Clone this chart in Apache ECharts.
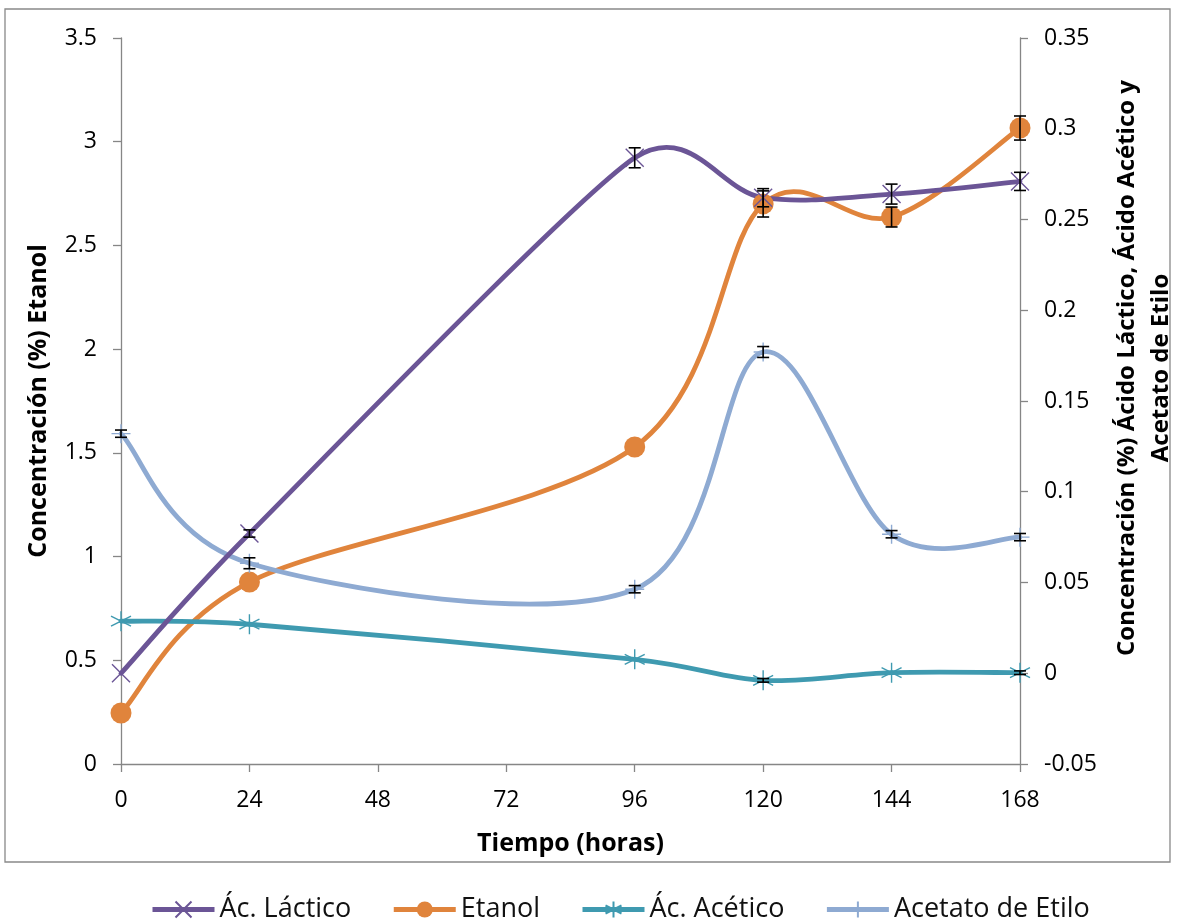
<!DOCTYPE html>
<html><head><meta charset="utf-8">
<script src="https://cdn.jsdelivr.net/npm/echarts@6/dist/echarts.min.js"></script>
<style>html,body{margin:0;padding:0;background:#fff}#c{width:1177px;height:921px}</style>
</head><body><div id="c"></div>
<script>
const hours = [0, 24, 96, 120, 144, 168];
const xTicks = [0, 24, 48, 72, 96, 120, 144, 168];
const lactico = [0.0, 0.077, 0.284, 0.262, 0.264, 0.271];
const lacticoErr = [0.0, 0.002, 0.0055, 0.005, 0.0055, 0.005];
const etanol = [0.246, 0.877, 1.528, 2.70, 2.637, 3.066];
const etanolErr = [0.0, 0.0, 0.0, 0.063, 0.048, 0.058];
const acetico = [0.0287, 0.027, 0.0077, -0.0039, 0.0003, 0.0003];
const aceticoErr = [0.0, 0.0, 0.0, 0.001, 0.0, 0.001];
const acetato = [0.132, 0.0606, 0.0463, 0.177, 0.0766, 0.075];
const acetatoErr = [0.002, 0.003, 0.002, 0.003, 0.002, 0.002];

const FONT = 'Open Sans';
const COL = { lac: '#6b5596', eta: '#e0843c', acc: '#3f9ab0', ace: '#8eaad2' };
const pts = arr => hours.map((h, i) => [h, arr[i]]);
const errPts = (arr, err) => hours.map((h, i) => [h, arr[i], err[i]]).filter(d => d[2] > 0);

const X_SYM = 'path://M0,0L10,10M10,0L0,10';
const STAR_SYM = 'path://M5,0L5,10M0,2.5L10,7.5M10,2.5L0,7.5';
const PLUS_SYM = 'path://M5,0L5,10M2.5,5L7.5,5';

function errSeries(arr, err, yIdx) {
  return {
    type: 'custom', yAxisIndex: yIdx, silent: true, z: 6,
    data: errPts(arr, err),
    renderItem: function (params, api) {
      const x = api.value(0), y = api.value(1), e = api.value(2);
      const top = api.coord([x, y + e]);
      const bot = api.coord([x, y - e]);
      const w = 6;
      const st = { stroke: '#000', lineWidth: 1.6 };
      return { type: 'group', children: [
        { type: 'line', shape: { x1: top[0], y1: top[1], x2: bot[0], y2: bot[1] }, style: st },
        { type: 'line', shape: { x1: top[0] - w, y1: top[1], x2: top[0] + w, y2: top[1] }, style: st },
        { type: 'line', shape: { x1: bot[0] - w, y1: bot[1], x2: bot[0] + w, y2: bot[1] }, style: st }
      ]};
    }
  };
}

// Spreadsheet-style smoothed curve (cubic Bezier), positioned through the library's coordinate system
function curveSeries(arr, yIdx, color, z) {
  const data = pts(arr);
  return {
    type: 'custom', yAxisIndex: yIdx, silent: true, z: z, clip: false,
    data: data,
    renderItem: function (params, api) {
      const i = params.dataIndex;
      const n = data.length;
      if (i >= n - 1) return null;
      const P = data.map(d => api.coord(d));
      const dist = (a, b) => Math.hypot(b[0] - a[0], b[1] - a[1]);
      function handles(k) {
        const p = P[k];
        if (k === 0 || k === n - 1) {
          const q = k === 0 ? P[1] : P[n - 2];
          const h = [(q[0] - p[0]) / 6, (q[1] - p[1]) / 6];
          return k === 0 ? { fwd: [p[0] + h[0], p[1] + h[1]] } : { back: [p[0] + h[0], p[1] + h[1]] };
        }
        const prev = P[k - 1], next = P[k + 1];
        const d01 = dist(prev, p), d12 = dist(p, next), d02 = dist(prev, next) || 1;
        const f = Math.min(1 / 6, d01 / (2 * d02), d12 / (2 * d02));
        const vx = (next[0] - prev[0]) * f, vy = (next[1] - prev[1]) * f;
        return { back: [p[0] - vx, p[1] - vy], fwd: [p[0] + vx, p[1] + vy] };
      }
      const a = handles(i), b = handles(i + 1);
      return {
        type: 'bezierCurve',
        shape: { x1: P[i][0], y1: P[i][1], x2: P[i + 1][0], y2: P[i + 1][1],
          cpx1: a.fwd[0], cpy1: a.fwd[1], cpx2: b.back[0], cpy2: b.back[1] },
        style: { stroke: color, lineWidth: 4.8, fill: null, lineCap: 'round' }
      };
    }
  };
}

const chart = echarts.init(document.getElementById('c'));
const axisLine = { show: true, lineStyle: { color: '#868686', width: 1.3 } };
const axisTick = { show: true, length: 8, lineStyle: { color: '#868686', width: 1.3 } };
const labelStyle = { color: '#000', fontFamily: FONT, fontSize: 23 };
const nameStyle = { color: '#000', fontFamily: FONT, fontSize: 25, fontWeight: 'bold' };

chart.setOption({
  animation: false,
  textStyle: { fontFamily: FONT },
  graphic: [{ type: 'rect', shape: { x: 5, y: 9, width: 1165, height: 853 },
    style: { fill: 'none', stroke: '#898989', lineWidth: 1.3 }, silent: true }],
  grid: { left: 121, right: 157, top: 38, bottom: 157, outerBoundsMode: 'none' },
  legend: {
    top: 891, left: 145, itemWidth: 62, itemHeight: 20, itemGap: 40,
    textStyle: { color: '#111', fontFamily: FONT, fontSize: 27 },
    lineStyle: { width: 5, opacity: 1 },
    data: ['Ác. Láctico', 'Etanol', 'Ác. Acético', 'Acetato de Etilo']
  },
  xAxis: {
    type: 'value', min: 0, max: 168, interval: 24,
    name: 'Tiempo (horas)', nameLocation: 'middle', nameGap: 67, nameTextStyle: nameStyle,
    axisLine, axisTick, splitLine: { show: false },
    axisLabel: Object.assign({ margin: 25, formatter: v => xTicks.includes(v) ? String(v) : '' }, labelStyle)
  },
  yAxis: [{
    type: 'value', min: 0, max: 3.5, interval: 0.5, position: 'left',
    name: 'Concentración (%) Etanol', nameLocation: 'middle', nameGap: 70, nameRotate: 90,
    nameTextStyle: nameStyle,
    axisLine, axisTick, splitLine: { show: false },
    axisLabel: Object.assign({ margin: 24, formatter: v => String(+v.toFixed(2)) }, labelStyle)
  }, {
    type: 'value', min: -0.05, max: 0.35, interval: 0.05, position: 'right',
    name: 'Concentración (%) Ácido Láctico, Ácido Acético y\nAcetato de Etilo',
    nameLocation: 'middle', nameGap: 90, nameRotate: 90,
    nameTextStyle: Object.assign({}, nameStyle, { fontSize: 24, lineHeight: 34, padding: [0, 0, 0, 66] }),
    axisLine, axisTick, splitLine: { show: false },
    axisLabel: Object.assign({ margin: 24, formatter: v => String(+v.toFixed(2)) }, labelStyle)
  }],
  series: [
    curveSeries(etanol, 0, COL.eta, 2),
    curveSeries(acetico, 1, COL.acc, 2),
    curveSeries(acetato, 1, COL.ace, 2),
    curveSeries(lactico, 1, COL.lac, 3),
    { name: 'Ác. Láctico', type: 'line', yAxisIndex: 1, data: pts(lactico), z: 5,
      symbol: X_SYM, symbolSize: 18,
      lineStyle: { color: COL.lac, width: 0, opacity: 0 },
      itemStyle: { color: COL.lac, borderColor: COL.lac, borderWidth: 1.4 } },
    { name: 'Etanol', type: 'line', yAxisIndex: 0, data: pts(etanol), z: 4,
      symbol: 'circle', symbolSize: 21,
      lineStyle: { color: COL.eta, width: 0, opacity: 0 },
      itemStyle: { color: COL.eta } },
    { name: 'Ác. Acético', type: 'line', yAxisIndex: 1, data: pts(acetico), z: 4,
      symbol: STAR_SYM, symbolSize: 20,
      lineStyle: { color: COL.acc, width: 0, opacity: 0 },
      itemStyle: { color: COL.acc, borderColor: COL.acc, borderWidth: 1.4 } },
    { name: 'Acetato de Etilo', type: 'line', yAxisIndex: 1, data: pts(acetato), z: 4,
      symbol: PLUS_SYM, symbolSize: 19,
      lineStyle: { color: COL.ace, width: 0, opacity: 0 },
      itemStyle: { color: COL.ace, borderColor: COL.ace, borderWidth: 1.4 } },
    errSeries(lactico, lacticoErr, 1),
    errSeries(etanol, etanolErr, 0),
    errSeries(acetico, aceticoErr, 1),
    errSeries(acetato, acetatoErr, 1)
  ]
});
</script></body></html>
